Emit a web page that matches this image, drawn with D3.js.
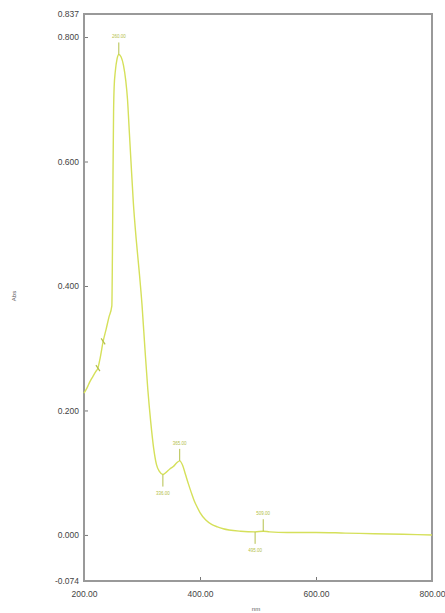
<!DOCTYPE html>
<html lang="en">
<head>
<meta charset="UTF-8">
<script src="https://cdn.jsdelivr.net/npm/d3@7"></script>
<style>
  body { margin: 0; background: #fff; }
  svg text { font-family: "Liberation Sans", Arial, sans-serif; }
</style>
</head>
<body>
<div id="fig"></div>
<script>
// spectrum
const wavelength = [200, 205, 210, 215, 220, 224, 228, 233, 238, 243, 248, 249, 250, 251, 252, 254, 257, 260, 264, 268, 272, 275, 278, 281, 285, 290, 295, 300, 305, 310, 315, 320, 325, 330, 336, 342, 348, 354, 360, 365, 370, 375, 380, 385, 390, 395, 400, 410, 420, 430, 440, 450, 470, 495, 509, 520, 550, 600, 650, 700, 750, 800];
const absorbance = [0.228, 0.236, 0.246, 0.254, 0.262, 0.268, 0.285, 0.311, 0.330, 0.350, 0.368, 0.45, 0.58, 0.68, 0.72, 0.745, 0.765, 0.772, 0.768, 0.755, 0.73, 0.70, 0.65, 0.60, 0.535, 0.475, 0.425, 0.37, 0.30, 0.234, 0.182, 0.14, 0.113, 0.102, 0.097, 0.101, 0.106, 0.110, 0.116, 0.119, 0.112, 0.097, 0.082, 0.068, 0.055, 0.045, 0.036, 0.024, 0.017, 0.013, 0.010, 0.008, 0.006, 0.005, 0.006, 0.005, 0.004, 0.004, 0.003, 0.002, 0.001, 0.0];

// picked peaks / valleys
const peakNm = [260, 365, 509];
const peakAbs = [0.772, 0.119, 0.006];
const valleyNm = [336, 495];
const valleyAbs = [0.097, 0.005];
const shoulderNm = [224, 233];
const shoulderAbs = [0.268, 0.311];

const yTicks = [-0.074, 0.0, 0.2, 0.4, 0.6, 0.8, 0.837];
const xTicks = [200, 400, 600, 800];

const width = 445, height = 613;
const margins = {top: 14, right: 13, bottom: 32, left: 84};

const svg = d3.select("#fig").append("svg")
    .attr("width", width)
    .attr("height", height);

const x = d3.scaleLinear().domain([200, 800]).range([margins.left, width - margins.right]);
const y = d3.scaleLinear().domain([-0.074, 0.837]).range([height - margins.bottom, margins.top]);

const lineCol = "#d5e05a", markCol = "#b4c04a";
const fmt3 = v => d3.format(".3f")(v).replace("\u2212", "-");

// axes, ticks drawn inward
const yAxis = svg.append("g")
    .attr("transform", `translate(${margins.left},0)`)
    .call(d3.axisLeft(y).tickValues(yTicks).tickFormat(fmt3).tickSize(-4).tickPadding(5));
const xAxis = svg.append("g")
    .attr("transform", `translate(0,${height - margins.bottom})`)
    .call(d3.axisBottom(x).tickValues(xTicks).tickFormat(d3.format(".2f")).tickSize(-4).tickPadding(10));

[yAxis, xAxis].forEach(g => {
    g.select(".domain").remove();
    g.selectAll(".tick line").attr("stroke", "#777");
    g.selectAll(".tick text").attr("fill", "#444").style("font-size", "8.5px");
});

svg.append("rect")
    .attr("x", margins.left).attr("y", margins.top)
    .attr("width", width - margins.left - margins.right)
    .attr("height", height - margins.top - margins.bottom)
    .attr("fill", "none").attr("stroke", "#999").attr("stroke-width", 2);

svg.append("text")
    .attr("transform", `translate(16,${y(0.4) + 10}) rotate(-90)`)
    .attr("text-anchor", "middle")
    .attr("fill", "#555").style("font-size", "6px")
    .text("Abs");
svg.append("text")
    .attr("x", x(500) - 2).attr("y", height - 2)
    .attr("text-anchor", "middle")
    .attr("fill", "#555").style("font-size", "6px")
    .text("nm");

// curve
const pts = wavelength.map((w, i) => [w, absorbance[i]]);
svg.append("path")
    .datum(pts)
    .attr("fill", "none")
    .attr("stroke", lineCol)
    .attr("stroke-width", 1.4)
    .attr("d", d3.line().x(d => x(d[0])).y(d => y(d[1])).curve(d3.curveMonotoneX));

// peak pick marks: up for peaks, down for valleys
function marks(nm, ab, dir) {
    const g = svg.append("g");
    nm.forEach((w, i) => {
        const px = x(w), py = y(ab[i]);
        g.append("line")
            .attr("x1", px).attr("x2", px)
            .attr("y1", py).attr("y2", py + dir * 12)
            .attr("stroke", markCol).attr("stroke-width", 1);
        g.append("text")
            .attr("x", px).attr("y", py + dir * 16 + (dir > 0 ? 4 : 0))
            .attr("text-anchor", "middle")
            .attr("fill", markCol).style("font-size", "4.5px")
            .text(d3.format(".2f")(w));
    });
}
marks(peakNm, peakAbs, -1);
marks(valleyNm, valleyAbs, 1);

svg.append("g").selectAll("line")
    .data(shoulderNm.map((w, i) => [w, shoulderAbs[i]]))
    .join("line")
    .attr("x1", d => x(d[0]) - 2).attr("x2", d => x(d[0]) + 2)
    .attr("y1", d => y(d[1]) - 3).attr("y2", d => y(d[1]) + 3)
    .attr("stroke", markCol).attr("stroke-width", 1.2);
</script>
</body>
</html>
